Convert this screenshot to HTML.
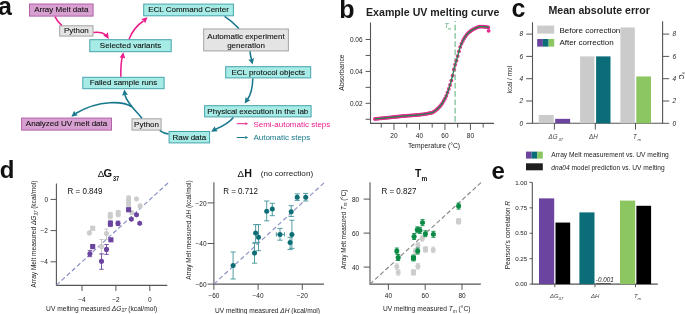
<!DOCTYPE html>
<html><head><meta charset="utf-8"><style>
html,body{margin:0;padding:0;background:#fff;overflow:hidden;}
svg{display:block;will-change:transform;font-family:"Liberation Sans", sans-serif;}
</style></head><body>
<svg width="685" height="314" viewBox="0 0 685 314">
<rect width="685" height="314" fill="#fff"/>
<rect x="29.50" y="4.00" width="63.60" height="12.10" fill="#d8a0d0" stroke="#b561a9" stroke-width="1"/>
<text x="61.30" y="12.35" font-size="8" text-anchor="middle" fill="#111" stroke="#111" stroke-width="0.1" >Array Melt data</text>
<rect x="59.70" y="25.80" width="33.30" height="10.30" fill="#e4e4e4" stroke="#a3a3a3" stroke-width="1"/>
<text x="76.35" y="33.25" font-size="8" text-anchor="middle" fill="#111" stroke="#111" stroke-width="0.1" >Python</text>
<rect x="89.80" y="39.70" width="81.40" height="12.00" fill="#a6ebe5" stroke="#45a4ad" stroke-width="1"/>
<text x="130.50" y="48.00" font-size="8" text-anchor="middle" fill="#111" stroke="#111" stroke-width="0.1" >Selected variants</text>
<rect x="143.70" y="4.10" width="89.70" height="11.70" fill="#a6ebe5" stroke="#45a4ad" stroke-width="1"/>
<text x="188.55" y="12.25" font-size="8" text-anchor="middle" fill="#111" stroke="#111" stroke-width="0.1" >ECL Command Center</text>
<rect x="203.70" y="29.00" width="84.70" height="21.90" fill="#e4e4e4" stroke="#a3a3a3" stroke-width="1"/>
<text x="246.05" y="38.90" font-size="8" text-anchor="middle" fill="#111" stroke="#111" stroke-width="0.1" >Automatic experiment</text>
<text x="246.05" y="47.60" font-size="8" text-anchor="middle" fill="#111" stroke="#111" stroke-width="0.1" >generation</text>
<rect x="225.70" y="66.70" width="85.00" height="11.20" fill="#a6ebe5" stroke="#45a4ad" stroke-width="1"/>
<text x="268.20" y="74.60" font-size="8" text-anchor="middle" fill="#111" stroke="#111" stroke-width="0.1" >ECL protocol objects</text>
<rect x="204.60" y="105.70" width="106.50" height="11.20" fill="#a6ebe5" stroke="#45a4ad" stroke-width="1"/>
<text x="257.85" y="113.60" font-size="8" text-anchor="middle" fill="#111" stroke="#111" stroke-width="0.1" >Physical execution in the lab</text>
<rect x="169.10" y="131.50" width="40.50" height="11.40" fill="#a6ebe5" stroke="#45a4ad" stroke-width="1"/>
<text x="189.35" y="139.50" font-size="8" text-anchor="middle" fill="#111" stroke="#111" stroke-width="0.1" >Raw data</text>
<rect x="132.00" y="118.80" width="29.10" height="11.30" fill="#e4e4e4" stroke="#a3a3a3" stroke-width="1"/>
<text x="146.55" y="126.75" font-size="8" text-anchor="middle" fill="#111" stroke="#111" stroke-width="0.1" >Python</text>
<rect x="21.60" y="118.10" width="89.90" height="12.00" fill="#d8a0d0" stroke="#b561a9" stroke-width="1"/>
<text x="66.55" y="126.40" font-size="8" text-anchor="middle" fill="#111" stroke="#111" stroke-width="0.1" >Analyzed UV melt data</text>
<rect x="82.80" y="77.30" width="81.30" height="11.40" fill="#a6ebe5" stroke="#45a4ad" stroke-width="1"/>
<text x="123.45" y="85.30" font-size="8" text-anchor="middle" fill="#111" stroke="#111" stroke-width="0.1" >Failed sample runs</text>
<path d="M55,16.6 Q57.5,22 61.8,25.3" fill="none" stroke="#ec1e8c" stroke-width="1.55" stroke-linecap="butt"/>
<path d="M93.5,32.4 Q102,31.5 106.5,35.5" fill="none" stroke="#ec1e8c" stroke-width="1.55" stroke-linecap="butt"/>
<path d="M108.80,38.90 L103.12,35.42 L105.94,34.46 L107.99,32.28 Z" fill="#ec1e8c"/>
<path d="M129,39.2 Q134,27 143.5,21" fill="none" stroke="#ec1e8c" stroke-width="1.55" stroke-linecap="butt"/>
<path d="M147.60,17.20 L145.08,23.37 L143.68,20.73 L141.20,19.06 Z" fill="#ec1e8c"/>
<path d="M120.8,76.8 Q120.6,62 122.6,56" fill="none" stroke="#ec1e8c" stroke-width="1.55" stroke-linecap="butt"/>
<path d="M123.30,52.20 L125.28,58.56 L122.52,57.42 L119.54,57.70 Z" fill="#ec1e8c"/>
<path d="M224.6,16.3 Q232,21 238.9,28.5" fill="none" stroke="#17788c" stroke-width="1.55" stroke-linecap="butt"/>
<path d="M250,51.4 Q250.5,57 251.8,60" fill="none" stroke="#17788c" stroke-width="1.55" stroke-linecap="butt"/>
<path d="M252.60,64.60 L248.33,59.48 L251.32,59.48 L253.96,58.08 Z" fill="#17788c"/>
<path d="M252.8,78.4 Q252.5,92 247.5,99.5" fill="none" stroke="#17788c" stroke-width="1.55" stroke-linecap="butt"/>
<path d="M244.60,103.60 L245.67,97.02 L247.63,99.27 L250.42,100.35 Z" fill="#17788c"/>
<path d="M233.4,117.4 Q228,124 215,129.5" fill="none" stroke="#17788c" stroke-width="1.55" stroke-linecap="butt"/>
<path d="M211.10,131.80 L214.75,126.23 L215.63,129.08 L217.74,131.20 Z" fill="#17788c"/>
<path d="M159.8,130.6 Q164,133.5 168.6,134" fill="none" stroke="#17788c" stroke-width="1.55" stroke-linecap="butt"/>
<path d="M142,118.3 C136,111 127,103 124.9,95" fill="none" stroke="#17788c" stroke-width="1.55" stroke-linecap="butt"/>
<path d="M124.30,89.50 L127.89,95.11 L124.93,94.74 L122.14,95.80 Z" fill="#17788c"/>
<path d="M131.8,106.8 C124,101.5 100,99 75.5,113.5" fill="none" stroke="#17788c" stroke-width="1.55" stroke-linecap="butt"/>
<path d="M71.40,116.80 L74.19,110.75 L75.48,113.44 L77.88,115.22 Z" fill="#17788c"/>
<line x1="236.8" y1="123.7" x2="245.5" y2="123.7" stroke="#ec1e8c" stroke-width="1"/>
<path d="M248.20,123.70 L245.00,125.10 L245.38,123.70 L245.00,122.30 Z" fill="#ec1e8c"/>
<line x1="236.8" y1="137.5" x2="245.5" y2="137.5" stroke="#17788c" stroke-width="1"/>
<path d="M248.20,137.50 L245.00,138.90 L245.38,137.50 L245.00,136.10 Z" fill="#17788c"/>
<text x="253.40" y="126.60" font-size="8" text-anchor="start" fill="#ec1e8c" >Semi-automatic steps</text>
<text x="253.40" y="140.40" font-size="8" text-anchor="start" fill="#17788c" >Automatic steps</text>
<text x="-2.10" y="15.00" font-size="25" text-anchor="start" font-weight="bold" fill="#111" >a</text>
<text x="339.20" y="17.60" font-size="25" text-anchor="start" font-weight="bold" fill="#111" >b</text>
<text x="511.60" y="16.90" font-size="25" text-anchor="start" font-weight="bold" fill="#111" >c</text>
<text x="-0.20" y="178.30" font-size="24" text-anchor="start" font-weight="bold" fill="#111" >d</text>
<text x="491.50" y="179.00" font-size="24" text-anchor="start" font-weight="bold" fill="#111" >e</text>
<text x="366.00" y="15.80" font-size="10" text-anchor="start" font-weight="bold" fill="#222" textLength="133.4" lengthAdjust="spacingAndGlyphs" >Example UV melting curve</text>
<path d="M370.5,22.6 V123.4 H494.1" fill="none" stroke="#555" stroke-width="1.1"/>
<line x1="365.6" y1="119.25" x2="370.5" y2="119.25" stroke="#555" stroke-width="1"/>
<line x1="365.6" y1="103.30" x2="370.5" y2="103.30" stroke="#555" stroke-width="1"/>
<line x1="365.6" y1="87.35" x2="370.5" y2="87.35" stroke="#555" stroke-width="1"/>
<line x1="365.6" y1="71.40" x2="370.5" y2="71.40" stroke="#555" stroke-width="1"/>
<line x1="365.6" y1="55.45" x2="370.5" y2="55.45" stroke="#555" stroke-width="1"/>
<line x1="365.6" y1="39.50" x2="370.5" y2="39.50" stroke="#555" stroke-width="1"/>
<text x="362.60" y="105.60" font-size="6.5" text-anchor="end" fill="#222" >0.02</text>
<text x="362.60" y="73.70" font-size="6.5" text-anchor="end" fill="#222" >0.04</text>
<text x="362.60" y="41.80" font-size="6.5" text-anchor="end" fill="#222" >0.06</text>
<line x1="381.24" y1="123.4" x2="381.24" y2="127.60" stroke="#555" stroke-width="1"/>
<line x1="393.98" y1="123.4" x2="393.98" y2="129.90" stroke="#555" stroke-width="1"/>
<line x1="406.72" y1="123.4" x2="406.72" y2="127.60" stroke="#555" stroke-width="1"/>
<line x1="419.46" y1="123.4" x2="419.46" y2="129.90" stroke="#555" stroke-width="1"/>
<line x1="432.20" y1="123.4" x2="432.20" y2="127.60" stroke="#555" stroke-width="1"/>
<line x1="444.94" y1="123.4" x2="444.94" y2="129.90" stroke="#555" stroke-width="1"/>
<line x1="457.68" y1="123.4" x2="457.68" y2="127.60" stroke="#555" stroke-width="1"/>
<line x1="470.42" y1="123.4" x2="470.42" y2="129.90" stroke="#555" stroke-width="1"/>
<line x1="483.16" y1="123.4" x2="483.16" y2="127.60" stroke="#555" stroke-width="1"/>
<text x="393.98" y="137.60" font-size="6.5" text-anchor="middle" fill="#222" >20</text>
<text x="419.46" y="137.60" font-size="6.5" text-anchor="middle" fill="#222" >40</text>
<text x="444.94" y="137.60" font-size="6.5" text-anchor="middle" fill="#222" >60</text>
<text x="470.42" y="137.60" font-size="6.5" text-anchor="middle" fill="#222" >80</text>
<text x="434.00" y="147.60" font-size="6.8" text-anchor="middle" fill="#222" >Temperature (°C)</text>
<text x="343.60" y="72.50" font-size="6.8" text-anchor="middle" fill="#222" transform="rotate(-90 343.60 72.50)" >Absorbance</text>
<line x1="455.1" y1="20.9" x2="455.1" y2="123" stroke="#5cb37c" stroke-width="1.05" stroke-dasharray="5.7,2.6" stroke-dashoffset="4.5"/>
<text x="444.20" y="27.60" font-size="7.5" text-anchor="start" font-style="italic" fill="#5cb37c" >T</text>
<text x="447.70" y="29.80" font-size="4.3" text-anchor="start" font-style="italic" fill="#5cb37c" >m</text>
<g fill="#e52b8f"><circle cx="374.87" cy="118.90" r="1.9"/><circle cx="376.14" cy="118.78" r="1.9"/><circle cx="377.42" cy="118.66" r="1.9"/><circle cx="378.69" cy="118.54" r="1.9"/><circle cx="379.97" cy="118.42" r="1.9"/><circle cx="381.24" cy="118.29" r="1.9"/><circle cx="382.51" cy="118.17" r="1.9"/><circle cx="383.79" cy="118.05" r="1.9"/><circle cx="385.06" cy="117.92" r="1.9"/><circle cx="386.34" cy="117.79" r="1.9"/><circle cx="387.61" cy="117.67" r="1.9"/><circle cx="388.88" cy="117.54" r="1.9"/><circle cx="390.16" cy="117.41" r="1.9"/><circle cx="391.43" cy="117.28" r="1.9"/><circle cx="392.71" cy="117.15" r="1.9"/><circle cx="393.98" cy="117.02" r="1.9"/><circle cx="395.25" cy="116.89" r="1.9"/><circle cx="396.53" cy="116.76" r="1.9"/><circle cx="397.80" cy="116.63" r="1.9"/><circle cx="399.08" cy="116.49" r="1.9"/><circle cx="400.35" cy="116.36" r="1.9"/><circle cx="401.62" cy="116.23" r="1.9"/><circle cx="402.90" cy="116.12" r="1.9"/><circle cx="404.17" cy="116.00" r="1.9"/><circle cx="405.45" cy="115.90" r="1.9"/><circle cx="406.72" cy="115.80" r="1.9"/><circle cx="407.99" cy="115.70" r="1.9"/><circle cx="409.27" cy="115.61" r="1.9"/><circle cx="410.54" cy="115.51" r="1.9"/><circle cx="411.82" cy="115.41" r="1.9"/><circle cx="413.09" cy="115.32" r="1.9"/><circle cx="414.36" cy="115.21" r="1.9"/><circle cx="415.64" cy="115.11" r="1.9"/><circle cx="416.91" cy="114.99" r="1.9"/><circle cx="418.19" cy="114.87" r="1.9"/><circle cx="419.46" cy="114.74" r="1.9"/><circle cx="420.73" cy="114.60" r="1.9"/><circle cx="422.01" cy="114.45" r="1.9"/><circle cx="423.28" cy="114.28" r="1.9"/><circle cx="424.56" cy="114.10" r="1.9"/><circle cx="425.83" cy="113.90" r="1.9"/><circle cx="427.10" cy="113.69" r="1.9"/><circle cx="428.38" cy="113.46" r="1.9"/><circle cx="429.65" cy="113.20" r="1.9"/><circle cx="430.93" cy="112.93" r="1.9"/><circle cx="432.20" cy="112.53" r="1.9"/><circle cx="433.47" cy="111.90" r="1.9"/><circle cx="434.75" cy="111.07" r="1.9"/><circle cx="436.02" cy="110.09" r="1.9"/><circle cx="437.30" cy="109.01" r="1.9"/><circle cx="438.57" cy="107.86" r="1.9"/><circle cx="439.84" cy="106.51" r="1.9"/><circle cx="441.12" cy="104.90" r="1.9"/><circle cx="442.39" cy="103.05" r="1.9"/><circle cx="443.67" cy="100.97" r="1.9"/><circle cx="444.94" cy="98.68" r="1.9"/><circle cx="446.21" cy="95.88" r="1.9"/><circle cx="447.49" cy="92.61" r="1.9"/><circle cx="448.76" cy="89.00" r="1.9"/><circle cx="450.04" cy="85.02" r="1.9"/><circle cx="451.31" cy="80.54" r="1.9"/><circle cx="452.58" cy="75.56" r="1.9"/><circle cx="453.86" cy="69.49" r="1.9"/><circle cx="455.13" cy="64.77" r="1.9"/><circle cx="456.41" cy="60.70" r="1.9"/><circle cx="457.68" cy="56.05" r="1.9"/><circle cx="458.95" cy="51.29" r="1.9"/><circle cx="460.23" cy="46.97" r="1.9"/><circle cx="461.50" cy="43.62" r="1.9"/><circle cx="462.78" cy="40.96" r="1.9"/><circle cx="464.05" cy="38.59" r="1.9"/><circle cx="465.32" cy="36.53" r="1.9"/><circle cx="466.60" cy="34.79" r="1.9"/><circle cx="467.87" cy="33.37" r="1.9"/><circle cx="469.15" cy="32.18" r="1.9"/><circle cx="470.42" cy="31.14" r="1.9"/><circle cx="471.69" cy="30.23" r="1.9"/><circle cx="472.97" cy="29.45" r="1.9"/><circle cx="474.24" cy="28.80" r="1.9"/><circle cx="475.52" cy="28.19" r="1.9"/><circle cx="476.79" cy="27.60" r="1.9"/><circle cx="478.06" cy="27.09" r="1.9"/><circle cx="479.34" cy="26.73" r="1.9"/><circle cx="480.61" cy="26.60" r="1.9"/><circle cx="481.89" cy="26.62" r="1.9"/><circle cx="483.16" cy="26.69" r="1.9"/><circle cx="484.43" cy="26.78" r="1.9"/><circle cx="485.71" cy="26.90" r="1.9"/><circle cx="486.98" cy="27.10" r="1.9"/><circle cx="488.26" cy="27.42" r="1.9"/><circle cx="488.64" cy="30.80" r="1.9"/></g>
<path d="M374.87,118.90 L375.51,118.84 L376.14,118.78 L376.78,118.72 L377.42,118.66 L378.06,118.60 L378.69,118.54 L379.33,118.48 L379.97,118.42 L380.60,118.35 L381.24,118.29 L381.88,118.23 L382.51,118.17 L383.15,118.11 L383.79,118.05 L384.43,117.98 L385.06,117.92 L385.70,117.86 L386.34,117.79 L386.97,117.73 L387.61,117.67 L388.25,117.60 L388.88,117.54 L389.52,117.48 L390.16,117.41 L390.80,117.35 L391.43,117.28 L392.07,117.22 L392.71,117.15 L393.34,117.09 L393.98,117.02 L394.62,116.96 L395.25,116.89 L395.89,116.83 L396.53,116.76 L397.17,116.69 L397.80,116.63 L398.44,116.56 L399.08,116.49 L399.71,116.43 L400.35,116.36 L400.99,116.30 L401.62,116.23 L402.26,116.17 L402.90,116.12 L403.54,116.06 L404.17,116.00 L404.81,115.95 L405.45,115.90 L406.08,115.85 L406.72,115.80 L407.36,115.75 L407.99,115.70 L408.63,115.65 L409.27,115.61 L409.90,115.56 L410.54,115.51 L411.18,115.46 L411.82,115.41 L412.45,115.36 L413.09,115.32 L413.73,115.26 L414.36,115.21 L415.00,115.16 L415.64,115.11 L416.27,115.05 L416.91,114.99 L417.55,114.93 L418.19,114.87 L418.82,114.81 L419.46,114.74 L420.10,114.67 L420.73,114.60 L421.37,114.52 L422.01,114.45 L422.64,114.36 L423.28,114.28 L423.92,114.19 L424.56,114.10 L425.19,114.00 L425.83,113.90 L426.47,113.80 L427.10,113.69 L427.74,113.57 L428.38,113.46 L429.01,113.33 L429.65,113.20 L430.29,113.07 L430.93,112.93 L431.56,112.76 L432.20,112.53 L432.84,112.24 L433.47,111.90 L434.11,111.51 L434.75,111.07 L435.38,110.60 L436.02,110.09 L436.66,109.56 L437.30,109.01 L437.93,108.44 L438.57,107.86 L439.21,107.22 L439.84,106.51 L440.48,105.74 L441.12,104.90 L441.75,104.00 L442.39,103.05 L443.03,102.04 L443.67,100.97 L444.30,99.86 L444.94,98.68 L445.58,97.35 L446.21,95.88 L446.85,94.29 L447.49,92.61 L448.12,90.83 L448.76,89.00 L449.40,87.08 L450.04,85.02 L450.67,82.84 L451.31,80.54 L451.95,78.11 L452.58,75.56 L453.22,72.73 L453.86,69.49 L454.50,66.85 L455.13,64.77 L455.77,62.82 L456.41,60.70 L457.04,58.42 L457.68,56.05 L458.32,53.65 L458.95,51.29 L459.59,49.05 L460.23,46.97 L460.87,45.14 L461.50,43.62 L462.14,42.25 L462.78,40.96 L463.41,39.73 L464.05,38.59 L464.69,37.52 L465.32,36.53 L465.96,35.62 L466.60,34.79 L467.24,34.04 L467.87,33.37 L468.51,32.76 L469.15,32.18 L469.78,31.64 L470.42,31.14 L471.06,30.67 L471.69,30.23 L472.33,29.83 L472.97,29.45 L473.61,29.11 L474.24,28.80 L474.88,28.50 L475.52,28.19 L476.15,27.89 L476.79,27.60 L477.43,27.33 L478.06,27.09 L478.70,26.89 L479.34,26.73 L479.98,26.63 L480.61,26.60 L481.25,26.61 L481.89,26.62 L482.52,26.65 L483.16,26.69 L483.80,26.73 L484.43,26.78 L485.07,26.84 L485.71,26.90 L486.35,26.98 L486.98,27.10 L487.62,27.25 L488.26,27.42 L488.89,27.60" fill="none" stroke="#27844c" stroke-width="1.35"/>
<text x="548.40" y="14.00" font-size="10" text-anchor="start" font-weight="bold" fill="#222" textLength="101.4" lengthAdjust="spacingAndGlyphs" >Mean absolute error</text>
<path d="M532.5,22.3 V123.3 H662.6 V21.3" fill="none" stroke="#555" stroke-width="1.1"/>
<line x1="526.2" y1="123.30" x2="532.5" y2="123.30" stroke="#555" stroke-width="1"/>
<line x1="662.6" y1="123.30" x2="669.2" y2="123.30" stroke="#555" stroke-width="1"/>
<text x="521.30" y="125.50" font-size="6.5" text-anchor="middle" font-style="italic" fill="#222" >0</text>
<text x="674.30" y="125.50" font-size="6.5" text-anchor="middle" font-style="italic" fill="#222" >0</text>
<line x1="526.2" y1="101.00" x2="532.5" y2="101.00" stroke="#555" stroke-width="1"/>
<line x1="662.6" y1="101.00" x2="669.2" y2="101.00" stroke="#555" stroke-width="1"/>
<text x="521.30" y="103.20" font-size="6.5" text-anchor="middle" font-style="italic" fill="#222" >2</text>
<text x="674.30" y="103.20" font-size="6.5" text-anchor="middle" font-style="italic" fill="#222" >2</text>
<line x1="526.2" y1="78.70" x2="532.5" y2="78.70" stroke="#555" stroke-width="1"/>
<line x1="662.6" y1="78.70" x2="669.2" y2="78.70" stroke="#555" stroke-width="1"/>
<text x="521.30" y="80.90" font-size="6.5" text-anchor="middle" font-style="italic" fill="#222" >4</text>
<text x="674.30" y="80.90" font-size="6.5" text-anchor="middle" font-style="italic" fill="#222" >4</text>
<line x1="526.2" y1="56.40" x2="532.5" y2="56.40" stroke="#555" stroke-width="1"/>
<line x1="662.6" y1="56.40" x2="669.2" y2="56.40" stroke="#555" stroke-width="1"/>
<text x="521.30" y="58.60" font-size="6.5" text-anchor="middle" font-style="italic" fill="#222" >6</text>
<text x="674.30" y="58.60" font-size="6.5" text-anchor="middle" font-style="italic" fill="#222" >6</text>
<line x1="526.2" y1="34.10" x2="532.5" y2="34.10" stroke="#555" stroke-width="1"/>
<line x1="662.6" y1="34.10" x2="669.2" y2="34.10" stroke="#555" stroke-width="1"/>
<text x="521.30" y="36.30" font-size="6.5" text-anchor="middle" font-style="italic" fill="#222" >8</text>
<text x="674.30" y="36.30" font-size="6.5" text-anchor="middle" font-style="italic" fill="#222" >8</text>
<line x1="554.4" y1="123.3" x2="554.4" y2="129.6" stroke="#555" stroke-width="1"/>
<line x1="595.3" y1="123.3" x2="595.3" y2="129.6" stroke="#555" stroke-width="1"/>
<line x1="635.5" y1="123.3" x2="635.5" y2="129.6" stroke="#555" stroke-width="1"/>
<rect x="538.8" y="114.94" width="14.90" height="8.36" fill="#cbcbcb"/>
<rect x="555.2" y="118.84" width="14.90" height="4.46" fill="#6b44a0"/>
<rect x="580.1" y="56.40" width="14.30" height="66.90" fill="#cbcbcb"/>
<rect x="596.1" y="56.40" width="14.40" height="66.90" fill="#0b6d77"/>
<rect x="620.4" y="27.41" width="14.40" height="95.89" fill="#cbcbcb"/>
<rect x="636.3" y="76.47" width="14.70" height="46.83" fill="#8bc660"/>
<rect x="537.2" y="25.6" width="17" height="8" fill="#cbcbcb"/>
<rect x="537.2" y="39.0" width="5.7" height="7.6" fill="#6b44a0"/><rect x="542.9" y="39.0" width="5.7" height="7.6" fill="#0b6d77"/><rect x="548.6" y="39.0" width="5.6" height="7.6" fill="#8bc660"/>
<text x="559.40" y="32.50" font-size="8" text-anchor="start" fill="#111" >Before correction</text>
<text x="559.40" y="45.40" font-size="8" text-anchor="start" fill="#111" >After correction</text>
<text x="548.60" y="138.50" font-size="6.3" text-anchor="start" font-style="italic" fill="#444" >ΔG<tspan font-size="4.2" dx="0.8" dy="2.2">37</tspan></text>
<text x="589.00" y="138.50" font-size="6.3" text-anchor="start" font-style="italic" fill="#444" >ΔH</text>
<text x="633.00" y="138.50" font-size="6.3" text-anchor="start" font-style="italic" fill="#444" >T<tspan font-size="4.2" dx="0.6" dy="2.2">m</tspan></text>
<text x="511.80" y="79.60" font-size="6.5" text-anchor="middle" fill="#222" transform="rotate(-90 511.80 79.60)" >kcal / mol</text>
<text x="679.30" y="75.50" font-size="6.5" text-anchor="middle" fill="#222" transform="rotate(90 679.30 75.50)" >°C</text>
<path d="M56.4,183.4 V285.4 H167.3" fill="none" stroke="#555" stroke-width="1.1"/>
<line x1="50.6" y1="199.40" x2="56.4" y2="199.40" stroke="#555" stroke-width="1"/>
<text x="48.00" y="201.70" font-size="6.5" text-anchor="end" fill="#222" >0</text>
<line x1="50.6" y1="230.60" x2="56.4" y2="230.60" stroke="#555" stroke-width="1"/>
<text x="48.00" y="232.90" font-size="6.5" text-anchor="end" fill="#222" >−2</text>
<line x1="50.6" y1="261.80" x2="56.4" y2="261.80" stroke="#555" stroke-width="1"/>
<text x="48.00" y="264.10" font-size="6.5" text-anchor="end" fill="#222" >−4</text>
<line x1="82.00" y1="285.4" x2="82.00" y2="291.0" stroke="#555" stroke-width="1"/>
<text x="82.00" y="301.60" font-size="6.5" text-anchor="middle" fill="#222" >−4</text>
<line x1="115.90" y1="285.4" x2="115.90" y2="291.0" stroke="#555" stroke-width="1"/>
<text x="115.90" y="301.60" font-size="6.5" text-anchor="middle" fill="#222" >−2</text>
<line x1="149.80" y1="285.4" x2="149.80" y2="291.0" stroke="#555" stroke-width="1"/>
<text x="149.80" y="301.60" font-size="6.5" text-anchor="middle" fill="#222" >0</text>
<line x1="56.4" y1="285.2" x2="168" y2="183" stroke="#8990c4" stroke-width="1.15" stroke-dasharray="4.5,2.492"/>
<text x="97.70" y="176.80" font-size="9.8" text-anchor="start" fill="#111" >Δ</text>
<text x="103.60" y="176.80" font-size="10.7" text-anchor="start" font-weight="bold" fill="#111" textLength="8.6" lengthAdjust="spacingAndGlyphs" >G</text>
<text x="112.90" y="180.70" font-size="6.6" text-anchor="start" font-weight="bold" fill="#111" textLength="6.2" lengthAdjust="spacingAndGlyphs" >37</text>
<text x="67.50" y="194.40" font-size="8.2" text-anchor="start" fill="#111" textLength="35.0" lengthAdjust="spacingAndGlyphs" >R = 0.849</text>
<text x="101.60" y="311.00" font-size="6.6" text-anchor="middle" fill="#222" textLength="111" lengthAdjust="spacingAndGlyphs" >UV melting measured <tspan font-style="italic">ΔG</tspan><tspan font-style="italic" font-size="4.5" dy="1.2">37</tspan><tspan dy="-1.2"> (kcal/mol)</tspan></text>
<text x="36.40" y="234.00" font-size="6.6" text-anchor="middle" fill="#222" textLength="107" lengthAdjust="spacingAndGlyphs" transform="rotate(-90 36.40 234.00)" >Array Melt measured <tspan font-style="italic">ΔG</tspan><tspan font-style="italic" font-size="4.5" dy="1.2">37</tspan><tspan dy="-1.2"> (kcal/mol)</tspan></text>
<circle cx="89.40" cy="232.90" r="2.55" fill="#cccccc"/>
<path d="M92.70,226.60 V230.00 M90.50,226.60 H94.90 M90.50,230.00 H94.90" stroke="#c4c4c4" stroke-width="0.9" fill="none"/>
<rect x="90.15" y="225.75" width="5.10" height="5.10" fill="#cccccc"/>
<path d="M106.50,229.00 V239.50 M104.30,229.00 H108.70 M104.30,239.50 H108.70" stroke="#c4c4c4" stroke-width="0.9" fill="none"/>
<circle cx="106.50" cy="233.60" r="2.55" fill="#cccccc"/>
<path d="M101.50,239.50 V253.90 M99.30,239.50 H103.70 M99.30,253.90 H103.70" stroke="#c4c4c4" stroke-width="0.9" fill="none"/>
<circle cx="101.50" cy="246.40" r="2.55" fill="#cccccc"/>
<path d="M110.30,212.40 V218.80 M108.10,212.40 H112.50 M108.10,218.80 H112.50" stroke="#c4c4c4" stroke-width="0.9" fill="none"/>
<rect x="107.75" y="213.05" width="5.10" height="5.10" fill="#cccccc"/>
<path d="M118.20,210.40 V216.80 M116.00,210.40 H120.40 M116.00,216.80 H120.40" stroke="#c4c4c4" stroke-width="0.9" fill="none"/>
<rect x="115.65" y="211.05" width="5.10" height="5.10" fill="#cccccc"/>
<path d="M128.60,196.20 V199.80 M126.40,196.20 H130.80 M126.40,199.80 H130.80" stroke="#c4c4c4" stroke-width="0.9" fill="none"/>
<polygon points="130.99,199.38 128.60,200.75 126.21,199.38 126.21,196.62 128.60,195.25 130.99,196.62" fill="#cccccc"/>
<path d="M128.60,199.80 V203.20 M126.40,199.80 H130.80 M126.40,203.20 H130.80" stroke="#c4c4c4" stroke-width="0.9" fill="none"/>
<polygon points="130.99,202.88 128.60,204.25 126.21,202.88 126.21,200.12 128.60,198.75 130.99,200.12" fill="#cccccc"/>
<path d="M128.60,203.20 V206.60 M126.40,203.20 H130.80 M126.40,206.60 H130.80" stroke="#c4c4c4" stroke-width="0.9" fill="none"/>
<polygon points="130.99,206.28 128.60,207.65 126.21,206.28 126.21,203.52 128.60,202.15 130.99,203.52" fill="#cccccc"/>
<polygon points="138.89,200.28 136.50,201.65 134.11,200.28 134.11,197.52 136.50,196.15 138.89,197.52" fill="#cccccc"/>
<circle cx="140.10" cy="205.90" r="2.55" fill="#cccccc"/>
<circle cx="131.70" cy="212.60" r="2.55" fill="#cccccc"/>
<path d="M89.90,250.60 V256.70 M87.70,250.60 H92.10 M87.70,256.70 H92.10" stroke="#6b44a0" stroke-width="0.9" fill="none"/>
<circle cx="89.90" cy="253.90" r="2.55" fill="#6b44a0"/>
<path d="M92.70,244.60 V248.60 M90.50,244.60 H94.90 M90.50,248.60 H94.90" stroke="#6b44a0" stroke-width="0.9" fill="none"/>
<rect x="90.15" y="244.05" width="5.10" height="5.10" fill="#6b44a0"/>
<path d="M101.50,253.90 V269.30 M99.30,253.90 H103.70 M99.30,269.30 H103.70" stroke="#6b44a0" stroke-width="0.9" fill="none"/>
<circle cx="101.50" cy="261.30" r="2.55" fill="#6b44a0"/>
<path d="M106.50,244.50 V254.40 M104.30,244.50 H108.70 M104.30,254.40 H108.70" stroke="#6b44a0" stroke-width="0.9" fill="none"/>
<circle cx="106.50" cy="249.40" r="2.55" fill="#6b44a0"/>
<rect x="108.35" y="237.25" width="5.10" height="5.10" fill="#6b44a0"/>
<path d="M110.40,220.80 V226.60 M108.20,220.80 H112.60 M108.20,226.60 H112.60" stroke="#6b44a0" stroke-width="0.9" fill="none"/>
<rect x="107.85" y="221.05" width="5.10" height="5.10" fill="#6b44a0"/>
<path d="M118.00,221.20 V225.60 M115.80,221.20 H120.20 M115.80,225.60 H120.20" stroke="#6b44a0" stroke-width="0.9" fill="none"/>
<circle cx="118.00" cy="223.30" r="2.55" fill="#6b44a0"/>
<rect x="126.05" y="207.15" width="5.10" height="5.10" fill="#6b44a0"/>
<polygon points="133.79,220.58 131.40,221.95 129.01,220.58 129.01,217.82 131.40,216.45 133.79,217.82" fill="#6b44a0"/>
<polygon points="138.89,216.18 136.50,217.55 134.11,216.18 134.11,213.42 136.50,212.05 138.89,213.42" fill="#6b44a0"/>
<polygon points="142.09,224.68 139.70,226.05 137.31,224.68 137.31,221.92 139.70,220.55 142.09,221.92" fill="#6b44a0"/>
<path d="M213.9,182.3 V284.1 H324.0" fill="none" stroke="#555" stroke-width="1.1"/>
<line x1="207.6" y1="284.10" x2="213.9" y2="284.10" stroke="#555" stroke-width="1"/>
<text x="206.60" y="287.00" font-size="6.5" text-anchor="end" fill="#222" >−60</text>
<line x1="213.90" y1="284.1" x2="213.90" y2="289.8" stroke="#555" stroke-width="1"/>
<text x="213.90" y="298.30" font-size="6.5" text-anchor="middle" fill="#222" >−60</text>
<line x1="207.6" y1="243.50" x2="213.9" y2="243.50" stroke="#555" stroke-width="1"/>
<text x="206.60" y="246.40" font-size="6.5" text-anchor="end" fill="#222" >−40</text>
<line x1="258.10" y1="284.1" x2="258.10" y2="289.8" stroke="#555" stroke-width="1"/>
<text x="258.10" y="298.30" font-size="6.5" text-anchor="middle" fill="#222" >−40</text>
<line x1="207.6" y1="202.90" x2="213.9" y2="202.90" stroke="#555" stroke-width="1"/>
<text x="206.60" y="205.80" font-size="6.5" text-anchor="end" fill="#222" >−20</text>
<line x1="302.30" y1="284.1" x2="302.30" y2="289.8" stroke="#555" stroke-width="1"/>
<text x="302.30" y="298.30" font-size="6.5" text-anchor="middle" fill="#222" >−20</text>
<line x1="213.9" y1="284.1" x2="324" y2="182.8" stroke="#8990c4" stroke-width="1.15" stroke-dasharray="4.5,2.756"/>
<text x="237.40" y="177.00" font-size="9.8" text-anchor="start" fill="#111" >Δ</text>
<text x="244.20" y="177.00" font-size="10.7" text-anchor="start" font-weight="bold" fill="#111" >H</text>
<text x="260.80" y="176.40" font-size="8.0" text-anchor="start" fill="#222" textLength="52.3" lengthAdjust="spacingAndGlyphs" >(no correction)</text>
<text x="223.20" y="194.20" font-size="8.2" text-anchor="start" fill="#111" textLength="34.8" lengthAdjust="spacingAndGlyphs" >R = 0.712</text>
<text x="267.50" y="312.60" font-size="6.6" text-anchor="middle" fill="#222" textLength="105" lengthAdjust="spacingAndGlyphs" >UV melting measured <tspan font-style="italic">ΔH</tspan> (kcal/mol)</text>
<text x="191.40" y="230.10" font-size="6.4" text-anchor="middle" fill="#222" textLength="99.5" lengthAdjust="spacingAndGlyphs" transform="rotate(-90 191.40 230.10)" >Array Melt measured <tspan font-style="italic">ΔH</tspan> (kcal/mol)</text>
<path d="M297.20,193.90 V200.40 M294.60,193.90 H299.80 M294.60,200.40 H299.80" stroke="#3f9499" stroke-width="0.9" fill="none"/>
<path d="M305.70,193.40 V201.00 M303.10,193.40 H308.30 M303.10,201.00 H308.30" stroke="#3f9499" stroke-width="0.9" fill="none"/>
<path d="M266.70,201.00 V220.80 M264.10,201.00 H269.30 M264.10,220.80 H269.30" stroke="#3f9499" stroke-width="0.9" fill="none"/>
<path d="M272.30,203.30 V215.70 M269.70,203.30 H274.90 M269.70,215.70 H274.90" stroke="#3f9499" stroke-width="0.9" fill="none"/>
<path d="M291.20,205.70 V216.50 M288.60,205.70 H293.80 M288.60,216.50 H293.80" stroke="#3f9499" stroke-width="0.9" fill="none"/>
<path d="M255.60,224.60 V242.40 M253.00,224.60 H258.20 M253.00,242.40 H258.20" stroke="#3f9499" stroke-width="0.9" fill="none"/>
<path d="M258.50,224.60 V250.70 M255.90,224.60 H261.10 M255.90,250.70 H261.10" stroke="#3f9499" stroke-width="0.9" fill="none"/>
<path d="M280.00,228.40 V240.20 M277.40,228.40 H282.60 M277.40,240.20 H282.60" stroke="#3f9499" stroke-width="0.9" fill="none"/>
<path d="M291.90,220.20 V248.40 M289.30,220.20 H294.50 M289.30,248.40 H294.50" stroke="#3f9499" stroke-width="0.9" fill="none"/>
<path d="M290.10,237.30 V249.60 M287.50,237.30 H292.70 M287.50,249.60 H292.70" stroke="#3f9499" stroke-width="0.9" fill="none"/>
<path d="M254.50,243.20 V263.20 M251.90,243.20 H257.10 M251.90,263.20 H257.10" stroke="#3f9499" stroke-width="0.9" fill="none"/>
<path d="M233.10,252.00 V279.00 M230.50,252.00 H235.70 M230.50,279.00 H235.70" stroke="#3f9499" stroke-width="0.9" fill="none"/>
<path d="M276.30,234.40 H284.50 M276.30,232.20 V236.60 M284.50,232.20 V236.60" stroke="#3f9499" stroke-width="0.9" fill="none"/>
<circle cx="297.20" cy="197.20" r="2.5" fill="#0e6e76"/>
<circle cx="305.70" cy="197.20" r="2.5" fill="#0e6e76"/>
<circle cx="266.70" cy="211.30" r="2.5" fill="#0e6e76"/>
<circle cx="272.30" cy="209.00" r="2.5" fill="#0e6e76"/>
<circle cx="291.20" cy="211.70" r="2.5" fill="#0e6e76"/>
<circle cx="255.60" cy="232.90" r="2.5" fill="#0e6e76"/>
<circle cx="258.50" cy="237.30" r="2.5" fill="#0e6e76"/>
<circle cx="280.00" cy="234.40" r="2.5" fill="#0e6e76"/>
<circle cx="291.90" cy="234.40" r="2.5" fill="#0e6e76"/>
<circle cx="290.10" cy="242.40" r="2.5" fill="#0e6e76"/>
<circle cx="254.50" cy="253.00" r="2.5" fill="#0e6e76"/>
<circle cx="233.10" cy="265.60" r="2.5" fill="#0e6e76"/>
<path d="M370.0,182.3 V284.1 H480.8" fill="none" stroke="#555" stroke-width="1.1"/>
<line x1="363.6" y1="267.10" x2="370" y2="267.10" stroke="#555" stroke-width="1"/>
<text x="359.20" y="270.10" font-size="6.5" text-anchor="end" fill="#222" >40</text>
<line x1="388.40" y1="284.1" x2="388.40" y2="289.8" stroke="#555" stroke-width="1"/>
<text x="388.40" y="298.30" font-size="6.5" text-anchor="middle" fill="#222" >40</text>
<line x1="363.6" y1="233.10" x2="370" y2="233.10" stroke="#555" stroke-width="1"/>
<text x="359.20" y="236.10" font-size="6.5" text-anchor="end" fill="#222" >60</text>
<line x1="425.20" y1="284.1" x2="425.20" y2="289.8" stroke="#555" stroke-width="1"/>
<text x="425.20" y="298.30" font-size="6.5" text-anchor="middle" fill="#222" >60</text>
<line x1="363.6" y1="199.10" x2="370" y2="199.10" stroke="#555" stroke-width="1"/>
<text x="359.20" y="202.10" font-size="6.5" text-anchor="end" fill="#222" >80</text>
<line x1="462.00" y1="284.1" x2="462.00" y2="289.8" stroke="#555" stroke-width="1"/>
<text x="462.00" y="298.30" font-size="6.5" text-anchor="middle" fill="#222" >80</text>
<line x1="370" y1="284.1" x2="481" y2="182.6" stroke="#8a8a8a" stroke-width="1.15" stroke-dasharray="4.5,2.448"/>
<text x="415.00" y="176.80" font-size="10.3" text-anchor="start" font-weight="bold" fill="#111" >T</text>
<text x="421.60" y="180.60" font-size="6.5" text-anchor="start" font-weight="bold" fill="#111" >m</text>
<text x="381.40" y="193.90" font-size="8.2" text-anchor="start" fill="#111" textLength="35.1" lengthAdjust="spacingAndGlyphs" >R = 0.827</text>
<text x="426.70" y="311.40" font-size="6.6" text-anchor="middle" fill="#222" textLength="87.5" lengthAdjust="spacingAndGlyphs" >UV melting measured <tspan font-style="italic">T</tspan><tspan font-style="italic" font-size="4.5" dy="1.2">m</tspan><tspan dy="-1.2"> (°C)</tspan></text>
<text x="346.30" y="229.50" font-size="6.3" text-anchor="middle" fill="#222" textLength="79.5" lengthAdjust="spacingAndGlyphs" transform="rotate(-90 346.30 229.50)" >Array Melt measured <tspan font-style="italic">T</tspan><tspan font-style="italic" font-size="4.5" dy="1.2">m</tspan><tspan dy="-1.2"> (°C)</tspan></text>
<path d="M458.60,218.50 V224.10 M456.60,218.50 H460.60 M456.60,224.10 H460.60" stroke="#d0d0d0" stroke-width="0.9" fill="none"/>
<rect x="456.05" y="218.75" width="5.10" height="5.10" fill="#cccccc"/>
<path d="M422.30,235.60 V241.20 M420.30,235.60 H424.30 M420.30,241.20 H424.30" stroke="#d0d0d0" stroke-width="0.9" fill="none"/>
<circle cx="422.30" cy="238.40" r="2.55" fill="#cccccc"/>
<path d="M417.90,242.50 V248.10 M415.90,242.50 H419.90 M415.90,248.10 H419.90" stroke="#d0d0d0" stroke-width="0.9" fill="none"/>
<circle cx="417.90" cy="245.30" r="2.55" fill="#cccccc"/>
<path d="M415.40,248.50 V254.10 M413.40,248.50 H417.40 M413.40,254.10 H417.40" stroke="#d0d0d0" stroke-width="0.9" fill="none"/>
<circle cx="415.40" cy="251.30" r="2.55" fill="#cccccc"/>
<path d="M425.50,246.60 V252.20 M423.50,246.60 H427.50 M423.50,252.20 H427.50" stroke="#d0d0d0" stroke-width="0.9" fill="none"/>
<rect x="422.95" y="246.85" width="5.10" height="5.10" fill="#cccccc"/>
<path d="M433.20,247.00 V252.60 M431.20,247.00 H435.20 M431.20,252.60 H435.20" stroke="#d0d0d0" stroke-width="0.9" fill="none"/>
<polygon points="435.59,251.18 433.20,252.55 430.81,251.18 430.81,248.42 433.20,247.05 435.59,248.42" fill="#cccccc"/>
<path d="M396.80,263.80 V269.40 M394.80,263.80 H398.80 M394.80,269.40 H398.80" stroke="#d0d0d0" stroke-width="0.9" fill="none"/>
<polygon points="399.19,267.98 396.80,269.35 394.41,267.98 394.41,265.22 396.80,263.85 399.19,265.22" fill="#cccccc"/>
<path d="M398.20,269.60 V275.20 M396.20,269.60 H400.20 M396.20,275.20 H400.20" stroke="#d0d0d0" stroke-width="0.9" fill="none"/>
<polygon points="400.59,273.78 398.20,275.15 395.81,273.78 395.81,271.02 398.20,269.65 400.59,271.02" fill="#cccccc"/>
<path d="M417.90,263.50 V269.10 M415.90,263.50 H419.90 M415.90,269.10 H419.90" stroke="#d0d0d0" stroke-width="0.9" fill="none"/>
<circle cx="417.90" cy="266.30" r="2.55" fill="#cccccc"/>
<path d="M413.50,269.60 V275.20 M411.50,269.60 H415.50 M411.50,275.20 H415.50" stroke="#d0d0d0" stroke-width="0.9" fill="none"/>
<rect x="410.95" y="269.85" width="5.10" height="5.10" fill="#cccccc"/>
<path d="M458.60,203.10 V209.10 M456.60,203.10 H460.60 M456.60,209.10 H460.60" stroke="#0b8a45" stroke-width="0.9" fill="none"/>
<circle cx="458.60" cy="206.10" r="2.55" fill="#0b8a45"/>
<path d="M422.50,219.60 V225.60 M420.50,219.60 H424.50 M420.50,225.60 H424.50" stroke="#0b8a45" stroke-width="0.9" fill="none"/>
<polygon points="424.89,223.98 422.50,225.35 420.11,223.98 420.11,221.22 422.50,219.85 424.89,221.22" fill="#0b8a45"/>
<path d="M417.30,226.80 V232.80 M415.30,226.80 H419.30 M415.30,232.80 H419.30" stroke="#0b8a45" stroke-width="0.9" fill="none"/>
<circle cx="417.30" cy="229.80" r="2.55" fill="#0b8a45"/>
<path d="M420.00,227.40 V233.40 M418.00,227.40 H422.00 M418.00,233.40 H422.00" stroke="#0b8a45" stroke-width="0.9" fill="none"/>
<polygon points="422.39,231.78 420.00,233.15 417.61,231.78 417.61,229.02 420.00,227.65 422.39,229.02" fill="#0b8a45"/>
<path d="M414.10,233.50 V239.50 M412.10,233.50 H416.10 M412.10,239.50 H416.10" stroke="#0b8a45" stroke-width="0.9" fill="none"/>
<circle cx="414.10" cy="236.50" r="2.55" fill="#0b8a45"/>
<path d="M425.40,230.70 V236.70 M423.40,230.70 H427.40 M423.40,236.70 H427.40" stroke="#0b8a45" stroke-width="0.9" fill="none"/>
<circle cx="425.40" cy="233.70" r="2.55" fill="#0b8a45"/>
<path d="M433.40,231.30 V237.30 M431.40,231.30 H435.40 M431.40,237.30 H435.40" stroke="#0b8a45" stroke-width="0.9" fill="none"/>
<polygon points="435.79,235.68 433.40,237.05 431.01,235.68 431.01,232.92 433.40,231.55 435.79,232.92" fill="#0b8a45"/>
<path d="M417.70,248.00 V254.00 M415.70,248.00 H419.70 M415.70,254.00 H419.70" stroke="#0b8a45" stroke-width="0.9" fill="none"/>
<circle cx="417.70" cy="251.00" r="2.55" fill="#0b8a45"/>
<path d="M396.80,248.00 V254.00 M394.80,248.00 H398.80 M394.80,254.00 H398.80" stroke="#0b8a45" stroke-width="0.9" fill="none"/>
<polygon points="399.19,252.38 396.80,253.75 394.41,252.38 394.41,249.62 396.80,248.25 399.19,249.62" fill="#0b8a45"/>
<path d="M398.20,254.50 V260.50 M396.20,254.50 H400.20 M396.20,260.50 H400.20" stroke="#0b8a45" stroke-width="0.9" fill="none"/>
<circle cx="398.20" cy="257.50" r="2.55" fill="#0b8a45"/>
<path d="M413.50,255.00 V261.00 M411.50,255.00 H415.50 M411.50,261.00 H415.50" stroke="#0b8a45" stroke-width="0.9" fill="none"/>
<rect x="410.95" y="255.45" width="5.10" height="5.10" fill="#0b8a45"/>
<path d="M532.3,182.40 V284.1 H657.8" fill="none" stroke="#555" stroke-width="1.1"/>
<line x1="529.6" y1="182.40" x2="532.3" y2="182.40" stroke="#555" stroke-width="1"/>
<text x="527.20" y="184.50" font-size="6.2" text-anchor="end" fill="#222" >1.00</text>
<line x1="529.6" y1="207.83" x2="532.3" y2="207.83" stroke="#555" stroke-width="1"/>
<text x="527.20" y="209.93" font-size="6.2" text-anchor="end" fill="#222" >0.75</text>
<line x1="529.6" y1="233.25" x2="532.3" y2="233.25" stroke="#555" stroke-width="1"/>
<text x="527.20" y="235.35" font-size="6.2" text-anchor="end" fill="#222" >0.50</text>
<line x1="529.6" y1="258.68" x2="532.3" y2="258.68" stroke="#555" stroke-width="1"/>
<text x="527.20" y="260.78" font-size="6.2" text-anchor="end" fill="#222" >0.25</text>
<line x1="529.6" y1="284.10" x2="532.3" y2="284.10" stroke="#555" stroke-width="1"/>
<text x="527.20" y="286.20" font-size="6.2" text-anchor="end" fill="#222" >0.00</text>
<line x1="554.8" y1="284.1" x2="554.8" y2="287.2" stroke="#555" stroke-width="1"/>
<line x1="595.0" y1="284.1" x2="595.0" y2="287.2" stroke="#555" stroke-width="1"/>
<line x1="635.5" y1="284.1" x2="635.5" y2="287.2" stroke="#555" stroke-width="1"/>
<rect x="539.0" y="198.37" width="15.20" height="85.73" fill="#6b44a0"/>
<rect x="555.5" y="222.57" width="14.70" height="61.53" fill="#000"/>
<rect x="579.4" y="212.40" width="15.10" height="71.70" fill="#0b6d77"/>
<rect x="620.0" y="200.60" width="15.20" height="83.50" fill="#8bc660"/>
<rect x="636.4" y="205.79" width="14.70" height="78.31" fill="#000"/>
<rect x="595.8" y="283.0" width="15.2" height="0.8" fill="#444"/>
<text x="604.80" y="281.60" font-size="6.3" text-anchor="middle" font-style="italic" fill="#222" >-0.001</text>
<text x="556.60" y="298.00" font-size="6.0" text-anchor="middle" font-style="italic" fill="#444" >ΔG<tspan font-size="4.2" dy="1.5">37</tspan></text>
<text x="595.20" y="298.00" font-size="6.0" text-anchor="middle" font-style="italic" fill="#444" >ΔH</text>
<text x="637.50" y="298.00" font-size="6.0" text-anchor="middle" font-style="italic" fill="#444" >T<tspan font-size="4.2" dy="1.5">m</tspan></text>
<text x="510.40" y="235.10" font-size="7.0" text-anchor="middle" fill="#222" textLength="68.5" lengthAdjust="spacingAndGlyphs" transform="rotate(-90 510.40 235.10)" >Pearson's correlation <tspan font-style='italic'>R</tspan></text>
<rect x="526.0" y="151.6" width="5.6" height="7" fill="#6b44a0"/><rect x="531.6" y="151.6" width="5.6" height="7" fill="#0b6d77"/><rect x="537.2" y="151.6" width="5.6" height="7" fill="#8bc660"/>
<rect x="526.0" y="163.3" width="16.8" height="7" fill="#1e1e1e"/>
<text x="551.30" y="157.40" font-size="6.3" text-anchor="start" fill="#222" textLength="117.5" lengthAdjust="spacingAndGlyphs" >Array Melt measurement vs. UV melting</text>
<text x="551.30" y="169.50" font-size="6.3" text-anchor="start" fill="#222" textLength="113.4" lengthAdjust="spacingAndGlyphs" ><tspan font-style="italic">dna04</tspan> model prediction vs. UV melting</text>
</svg>
</body></html>
